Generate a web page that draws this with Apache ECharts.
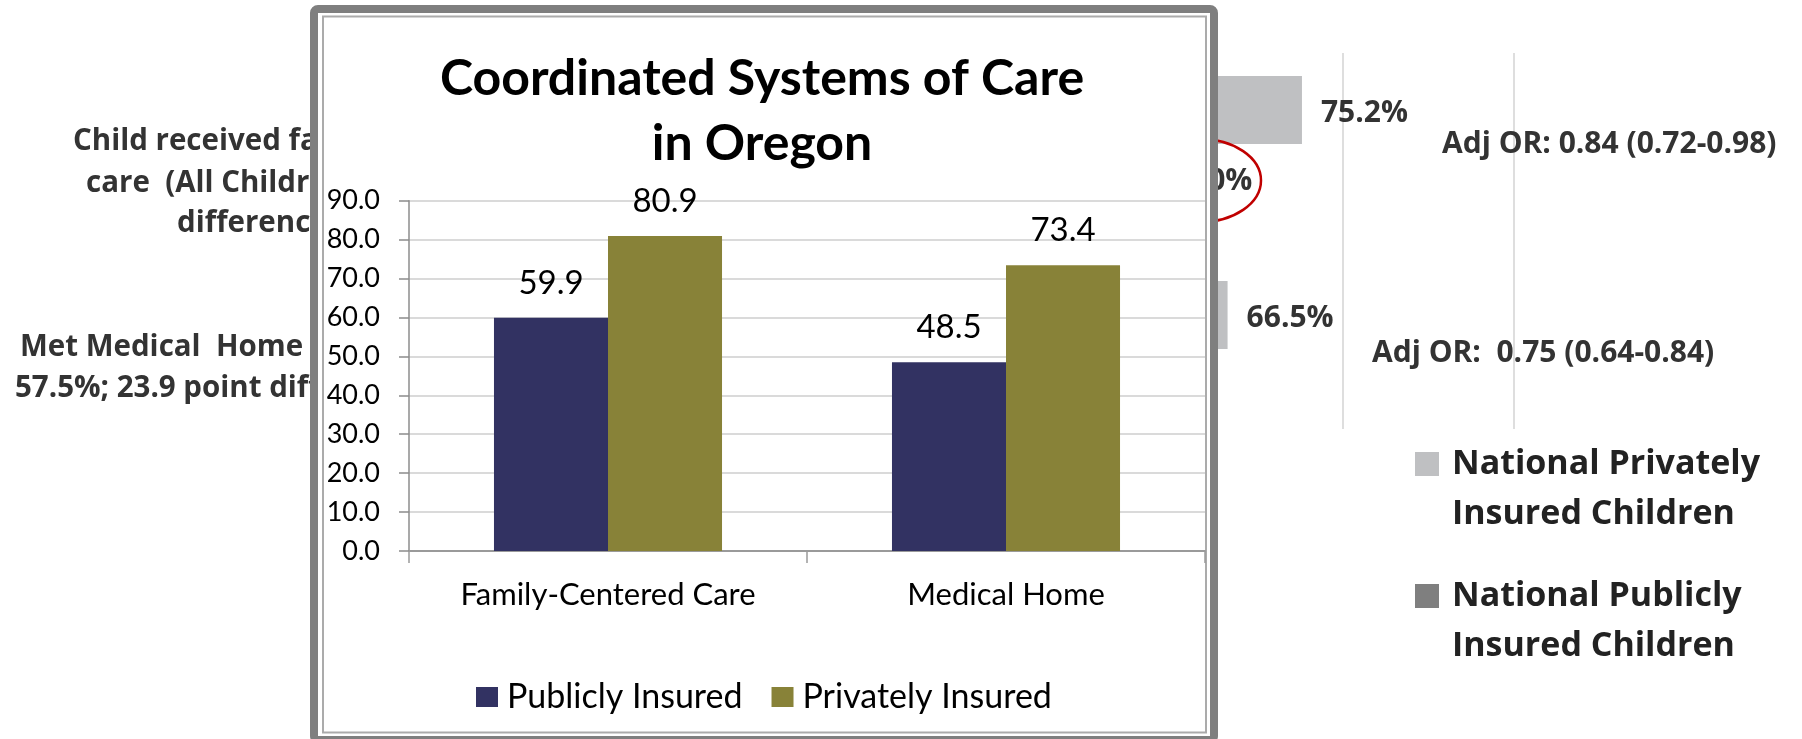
<!DOCTYPE html>
<html>
<head>
<meta charset="utf-8">
<script src="https://cdn.jsdelivr.net/npm/echarts@6/dist/echarts.min.js"></script>
<style>
html,body{margin:0;padding:0;background:#ffffff;}
#chart{width:1802px;height:739px;}
</style>
</head>
<body>
<div id="chart"></div>
<script>
// ---- Oregon overlay chart data ----
const oregonCategories = ['Family-Centered Care', 'Medical Home'];
const publiclyInsured = [59.9, 48.5];
const privatelyInsured = [80.9, 73.4];
const oregonSeriesNames = ['Publicly Insured', 'Privately Insured'];
const oregonTitle = 'Coordinated Systems of Care\nin Oregon';

// ---- Background national chart data (mostly hidden behind the overlay) ----
const nationalCategories = ['Family-centered care', 'Medical home'];
const nationalPrivate = [75.2, 66.5];
const nationalPublic = [57.0, 42.6];
const nationalSeriesNames = ['National Privately Insured Children', 'National Publicly Insured Children'];
const adjOrTexts = ['Adj OR: 0.84 (0.72-0.98)', 'Adj OR:  0.75 (0.64-0.84)'];
const backgroundRowTexts = ['Child received fam', 'care  (All Children', 'difference', 'Met Medical  Home C', '57.5%; 23.9 point diff'];

const chart = echarts.init(document.getElementById('chart'), null, {renderer: 'canvas'});

const bgFamily = '"Open Sans", sans-serif';
const fgFont = 'Lato, "Open Sans", sans-serif';

function bgText(x, y, text, size) {
  return {type: 'text', z: 1, x: x, y: y,
    style: {text: text, fontSize: size, fontFamily: bgFamily, fontWeight: 'bold', fill: '#333', verticalAlign: 'middle'}};
}

const option = {
  backgroundColor: '#ffffff',
  animation: false,
  grid: [
    {left: 409, top: 200.7, width: 796, height: 350.3},   // Oregon chart
    {left: 659, top: 41.5, width: 855, height: 410},      // national bars
    {left: 659, top: 53, width: 855, height: 376}         // national gridlines
  ],
  xAxis: [
    {
      gridIndex: 0, type: 'category', data: oregonCategories, z: 11,
      axisLine: {lineStyle: {color: '#9a9a9a', width: 2}},
      axisTick: {show: true, length: 12, lineStyle: {color: '#9a9a9a', width: 1.5}},
      axisLabel: {margin: 28, fontFamily: fgFont, fontSize: 31, color: '#000'}
    },
    {
      gridIndex: 1, type: 'value', min: 0, max: 100, interval: 20, z: 0,
      axisLine: {show: false}, axisTick: {show: false}, axisLabel: {show: false}, splitLine: {show: false}
    },
    {
      gridIndex: 2, type: 'value', min: 0, max: 100, interval: 20, z: 0,
      axisLine: {show: false}, axisTick: {show: false}, axisLabel: {show: false},
      splitLine: {show: true, lineStyle: {color: '#dedede', width: 2}}
    }
  ],
  yAxis: [
    {
      gridIndex: 0, type: 'value', min: 0, max: 90, interval: 10, z: 11,
      axisLine: {show: true, lineStyle: {color: '#8c8c8c', width: 1.5}},
      axisTick: {show: true, length: 10, lineStyle: {color: '#8c8c8c', width: 1.5}},
      axisLabel: {margin: 29, fontFamily: fgFont, fontSize: 27, color: '#000', formatter: v => v.toFixed(1)},
      splitLine: {show: true, lineStyle: {color: '#dadada', width: 2}}
    },
    {gridIndex: 1, type: 'category', data: nationalCategories, inverse: true, show: false},
    {gridIndex: 2, type: 'value', min: 0, max: 1, show: false}
  ],
  legend: [
    {
      data: oregonSeriesNames, left: 476, top: 677, padding: 0, z: 12,
      icon: 'rect', itemWidth: 22, itemHeight: 20, itemGap: 29,
      textStyle: {fontFamily: fgFont, fontSize: 34, color: '#000', lineHeight: 40, padding: [0, 0, 0, 4]}
    },
    {
      data: nationalSeriesNames, orient: 'vertical', left: 1415, top: 389, padding: 0, z: 1,
      icon: 'rect', itemWidth: 24, itemHeight: 24, itemGap: -18,
      formatter: n => '\n' + n.replace(' Insured', '\nInsured'),
      textStyle: {fontFamily: bgFamily, fontWeight: 'bold', fontSize: 34, color: '#222', lineHeight: 50, padding: [0, 0, 0, 8]}
    }
  ],
  series: [
    {
      name: oregonSeriesNames[0], type: 'bar', xAxisIndex: 0, yAxisIndex: 0, z: 12,
      data: publiclyInsured, barGap: '0%', barCategoryGap: '42.7%',
      itemStyle: {color: '#323262'},
      label: {show: true, position: 'top', distance: 18, fontFamily: fgFont, fontSize: 33, color: '#000',
        formatter: p => p.value.toFixed(1)}
    },
    {
      name: oregonSeriesNames[1], type: 'bar', xAxisIndex: 0, yAxisIndex: 0, z: 12,
      data: privatelyInsured, barGap: '0%', barCategoryGap: '42.7%',
      itemStyle: {color: '#888238'},
      label: {show: true, position: 'top', distance: 18, fontFamily: fgFont, fontSize: 33, color: '#000',
        formatter: p => p.value.toFixed(1)}
    },
    {
      name: nationalSeriesNames[0], type: 'bar', xAxisIndex: 1, yAxisIndex: 1, z: 1,
      data: nationalPrivate, barWidth: 68, barGap: '0%',
      itemStyle: {color: '#bfc0c2'},
      label: {show: true, position: 'right', distance: 19, offset: [0, 3], fontFamily: bgFamily, fontWeight: 'bold',
        fontSize: 30, color: '#333', formatter: p => p.value.toFixed(1) + '%'}
    },
    {
      name: nationalSeriesNames[1], type: 'bar', xAxisIndex: 1, yAxisIndex: 1, z: 1,
      data: nationalPublic, barWidth: 68, barGap: '0%',
      itemStyle: {color: '#7f7f7f'},
      label: {show: true, position: 'right', distance: 19, offset: [0, 3], fontFamily: bgFamily, fontWeight: 'bold',
        fontSize: 30, color: '#333', formatter: p => p.value.toFixed(1) + '%'}
    }
  ],
  graphic: {
    elements: [
      // background slide row labels (visible fragments)
      bgText(73, 142, backgroundRowTexts[0], 29.5),
      bgText(86, 184, backgroundRowTexts[1], 29.5),
      bgText(177, 224, backgroundRowTexts[2], 29.5),
      bgText(20, 348, backgroundRowTexts[3], 29.5),
      bgText(15, 389, backgroundRowTexts[4], 29.5),
      // adjusted odds ratio annotations
      bgText(1442, 144, adjOrTexts[0], 30),
      bgText(1372, 353, adjOrTexts[1], 30),
      // red highlight ellipse
      {type: 'ellipse', z: 3, shape: {cx: 1200, cy: 180.5, rx: 61, ry: 41.5}, style: {fill: 'none', stroke: '#c00000', lineWidth: 2.5}},
      // overlay frame
      {type: 'rect', z: 10, shape: {x: 314, y: 9, width: 900, height: 731, r: 4}, style: {fill: '#ffffff', stroke: '#7f7f7f', lineWidth: 8}},
      {type: 'rect', z: 10, z2: 5, shape: {x: 323, y: 16.5, width: 883, height: 716}, style: {fill: 'none', stroke: '#ababab', lineWidth: 2}},
      // overlay chart title
      {type: 'text', z: 12, x: 762, y: 111, style: {text: oregonTitle, fontSize: 50, fontFamily: fgFont, fontWeight: 'bold', fill: '#000', align: 'center', verticalAlign: 'middle', lineHeight: 65}}
    ]
  }
};

chart.setOption(option);
</script>
</body>
</html>
